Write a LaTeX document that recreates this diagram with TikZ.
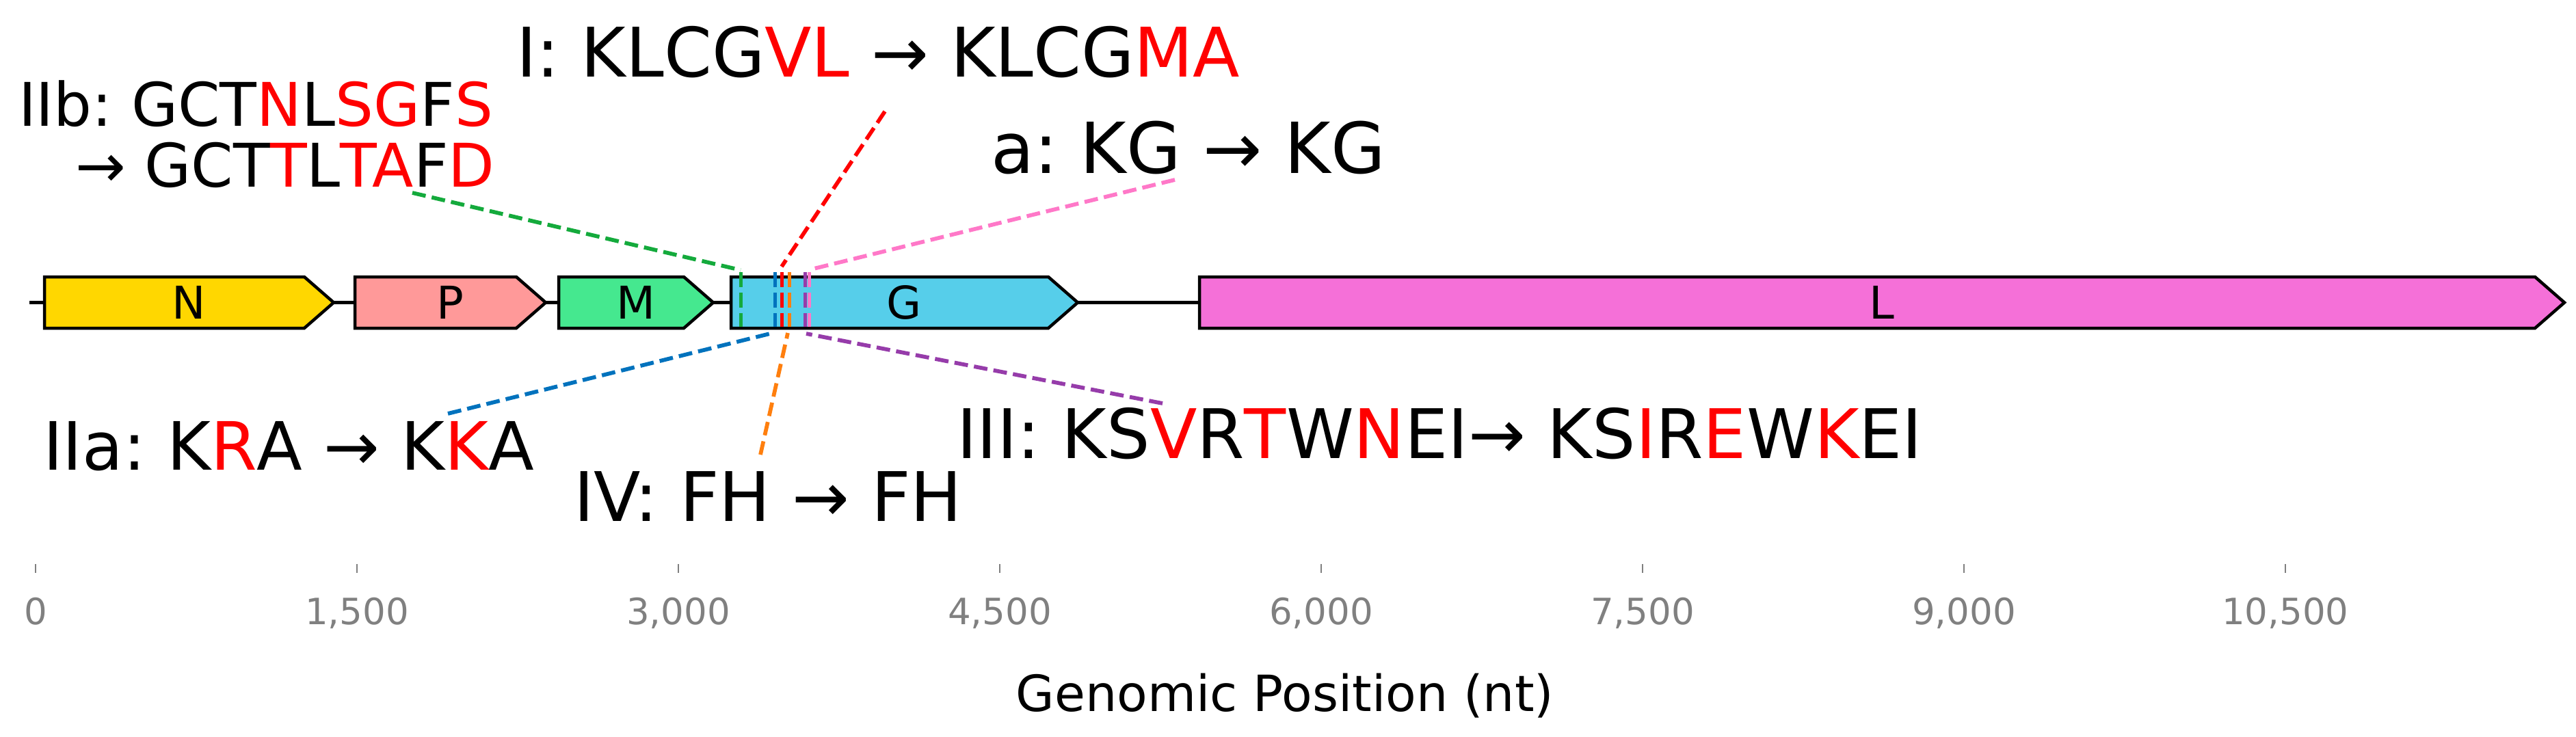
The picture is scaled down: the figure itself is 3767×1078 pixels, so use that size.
\documentclass[tikz,border=0pt]{standalone}
\usepackage{fontspec}
\setmainfont{DejaVu Sans}
\usetikzlibrary{calc}
\definecolor{cN}{HTML}{FFD700}
\definecolor{cP}{HTML}{FF9999}
\definecolor{cM}{HTML}{45E88F}
\definecolor{cG}{HTML}{56CEEA}
\definecolor{cL}{HTML}{F570D8}
\definecolor{mGreen}{RGB}{20,170,60}
\definecolor{mBlue}{RGB}{0,114,189}
\definecolor{mRed}{RGB}{255,0,0}
\definecolor{mOrange}{RGB}{255,127,14}
\definecolor{mPurple}{RGB}{150,60,170}
\definecolor{mPink}{RGB}{255,120,200}
\definecolor{tickgray}{RGB}{128,128,128}
\newcommand{\rd}[1]{\textcolor{red}{#1}}
\frenchspacing
\begin{document}
\begin{tikzpicture}[x=0.2pt,y=-0.2pt,
  gene/.style={draw=black,line width=0.9pt,line join=miter},
  genelab/.style={inner sep=0pt,font=\fontsize{13.2}{15}\selectfont},
  lab/.style={anchor=base west,inner sep=0pt,font=\fontsize{20}{24}\selectfont},
  labsmall/.style={anchor=base west,inner sep=0pt,font=\fontsize{17.6}{21}\selectfont},
  marker/.style={line width=1pt,dash pattern=on 4.4pt off 1.6pt},
  conn/.style={line width=1.15pt,dash pattern=on 4pt off 1.8pt},
  ticklab/.style={anchor=base,inner sep=0pt,text=tickgray,font=\fontsize{10.6}{12}\selectfont},
  tickmark/.style={draw=tickgray,line width=0.5pt}]
\useasboundingbox (0,0) rectangle (3767,1078);
% backbone
\coordinate (bbL) at (43,442.5);
\coordinate (bbR) at (3750,442.5);
\draw[line width=0.9pt] (bbL) -- (bbR);
% genes
\foreach \a/\b/\c/\n in {65/488/cN/N,519/798/cP/P,817/1043/cM/M,1069/1576/cG/G,1754/3750/cL/L}{
  \draw[gene,fill=\c] (\a,405) -- ({\b-43},405) -- (\b,442.5) -- ({\b-43},480) -- (\a,480) -- cycle;
  \node[genelab] (g\n) at ({(\a+\b)/2},442.5) {\n};
}
% markers
\foreach \x/\c/\n in {1083/mGreen/IIb,1133/mBlue/IIa,1143/mRed/I,1154/mOrange/IV,1177/mPurple/III,1183/mPink/a}{
  \coordinate (mt\n) at (\x,398);
  \coordinate (mb\n) at (\x,478);
  \draw[marker,draw=\c] (mt\n) -- (mb\n);
}
% labels
\node[lab] (lI) at (754,113) {I: KLCG\rd{VL} → KLCG\rd{MA}};
\node[labsmall] (lIIb1) at (26,185) {IIb: GCT\rd{N}L\rd{SG}F\rd{S}};
\node[labsmall] (lIIb2) at (109,273) {→ GCT\rd{T}L\rd{TA}F\rd{D}};
\node[lab,font=\fontsize{20.6}{24}\selectfont] (la) at (1448,253) {a: KG → KG};
\node[lab,font=\fontsize{19.5}{24}\selectfont] (lIIa) at (62,687) {IIa: K\rd{R}A → K\rd{K}A};
\node[lab] (lIV) at (838,762) {IV: FH → FH};
\node[lab] (lIII) at (1398,670) {III: KS\rd{V}R\rd{T}W\rd{N}EI→ KS\rd{I}R\rd{E}W\rd{K}EI};
% connector label ends
\coordinate (cIIb) at (603,282);
\coordinate (cI) at (1294,163);
\coordinate (ca) at (1718,263);
\coordinate (cIIa) at (655,605);
\coordinate (cIV) at (1112,665);
\coordinate (cIII) at (1700,590);
\coordinate (eIIb) at (1083,395);
\coordinate (eI) at (1143,390);
\coordinate (ea) at (1190,393);
\coordinate (eIIa) at (1130,487);
\coordinate (eIV) at (1152,487);
\coordinate (eIII) at (1179,488);
\draw[conn,draw=mGreen] (cIIb) -- (eIIb);
\draw[conn,draw=mRed] (cI) -- (eI);
\draw[conn,draw=mPink] (ca) -- (ea);
\draw[conn,draw=mBlue] (cIIa) -- (eIIa);
\draw[conn,draw=mOrange] (cIV) -- (eIV);
\draw[conn,draw=mPurple] (cIII) -- (eIII);
% axis
\foreach \v/\t in {0/0,1500/{1,500},3000/{3,000},4500/{4,500},6000/{6,000},7500/{7,500},9000/{9,000},10500/{10,500}}{
  \coordinate (tk\v) at ({52+\v*0.31333},825);
  \coordinate (tb\v) at ({52+\v*0.31333},838);
  \draw[tickmark] (tk\v) -- (tb\v);
  \node[ticklab] (tl\v) at ({52+\v*0.31333},913) {\t};
}
\node[anchor=base,inner sep=0pt,font=\fontsize{14.6}{17}\selectfont] (xlab) at (1879,1040) {Genomic Position (nt)};
\end{tikzpicture}
\end{document}
